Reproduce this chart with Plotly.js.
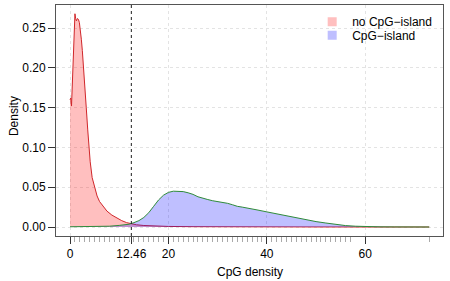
<!DOCTYPE html>
<html><head><meta charset="utf-8">
<script src="https://cdn.plot.ly/plotly-3.0.1.min.js"></script>
<style>html,body{margin:0;padding:0;background:#fff}#chart{width:450px;height:281px}</style>
</head><body><div id="chart"></div>
<script>
const nonIslandX = [0.0,0.15,0.3,0.5,0.7,0.9,1.0,1.15,1.3,1.5,1.7,1.9,2.1,2.3,2.5,2.7,3.0,3.3,3.6,3.8,4.1,4.5,5.1,5.5,6.0,6.8,7.5,8.5,9.5,10.5,11.5,12.5,13.5,15,17,20,25,30,40,50,60,73];
const nonIslandY = [0.160,0.162,0.152,0.185,0.235,0.262,0.268,0.262,0.259,0.262,0.261,0.257,0.248,0.236,0.222,0.206,0.180,0.150,0.122,0.105,0.082,0.062,0.046,0.039,0.032,0.0255,0.020,0.015,0.011,0.008,0.0055,0.0038,0.0028,0.0019,0.0012,0.0007,0.0004,0.0002,0.0001,0.00005,0,0];
const islandX = [0,5,8,10,11,12,13,14,15,16,17,18,19,20,21,22,23,24,25,26,27,28,29,30,31,32,33,34,35,36,38,40,42,44,46,48,50,52,54,56,58,60,63,66,70,73];
const islandY = [0.0003,0.0005,0.001,0.002,0.003,0.0035,0.0055,0.008,0.012,0.018,0.026,0.034,0.040,0.0435,0.045,0.0452,0.0445,0.043,0.041,0.038,0.036,0.0345,0.033,0.032,0.031,0.0298,0.028,0.026,0.025,0.024,0.0215,0.019,0.0165,0.014,0.011,0.0085,0.0068,0.005,0.0033,0.0018,0.001,0.0005,0.0002,0.0001,0,0];
const rugX = [0,1,2,3,4,5,6,7,8,9,10,11,12,13,14,15,16,17,18,19,20,21,22,23,24,25,26,27,28,29,30,31,32,33,34,35,36,37,38,39,40,41,42,43,44,45,46,47,48,49,50,51,52,53,54,55,56,57,73];
const threshold = 12.46;
const xTickVals = [0, 12.46, 20, 40, 60];
const xTickText = ['0', '12.46', '20', '40', '60'];
const yTickVals = [0, 0.05, 0.10, 0.15, 0.20, 0.25];
const seriesNames = ['no CpG\u2212island', 'CpG\u2212island'];

const font = {family: 'Liberation Sans, Arial, sans-serif', size: 12, color: '#000'};
const traces = [
  {x: nonIslandX, y: nonIslandY, type: 'scatter', mode: 'lines', fill: 'tozeroy',
   fillcolor: 'rgba(255,0,0,0.25)', line: {color: '#d0262a', width: 1}, showlegend: false, hoverinfo: 'skip'},
  {x: islandX, y: islandY, type: 'scatter', mode: 'lines', fill: 'tozeroy',
   fillcolor: 'rgba(0,0,255,0.25)', line: {color: '#2e8b3a', width: 1}, showlegend: false, hoverinfo: 'skip'},
  {x: [null], y: [null], type: 'scatter', mode: 'markers', name: seriesNames[0], legend: 'legend',
   marker: {symbol: 'square', size: 9, color: 'rgba(255,0,0,0.25)'}},
  {x: [null], y: [null], type: 'scatter', mode: 'markers', name: seriesNames[1], legend: 'legend2',
   marker: {symbol: 'square', size: 9, color: 'rgba(0,0,255,0.25)'}}
];
const legendBase = {xanchor: 'left', yanchor: 'top', bgcolor: 'rgba(0,0,0,0)', font: font, itemwidth: 30};
const layout = {
  width: 450, height: 281,
  margin: {l: 56, r: 7, t: 5, b: 45},
  paper_bgcolor: '#fff', plot_bgcolor: '#fff',
  font: font,
  showlegend: true,
  legend: Object.assign({x: 0.662, y: 0.99}, legendBase),
  legend2: Object.assign({x: 0.662, y: 0.932}, legendBase),
  xaxis: {range: [-2.85, 75.8], tickmode: 'array', tickvals: xTickVals, ticktext: xTickText,
          ticks: 'outside', ticklen: 7, tickcolor: '#333', tickwidth: 1,
          showline: true, mirror: true, linecolor: '#555', linewidth: 1,
          showgrid: true, gridcolor: '#e3e3e3', griddash: 'dot', zeroline: false,
          tickfont: font,
          minor: {tickmode: 'array', tickvals: rugX, ticks: 'outside', ticklen: 5, tickcolor: '#aaaaaa', showgrid: false}},
  yaxis: {range: [-0.0113, 0.279], tickmode: 'array', tickvals: yTickVals, tickformat: '.2f',
          ticks: 'outside', ticklen: 7, tickcolor: '#333', tickwidth: 1,
          showline: true, mirror: true, linecolor: '#555', linewidth: 1,
          showgrid: true, gridcolor: '#e3e3e3', griddash: 'dot', zeroline: false,
          tickfont: font},
  shapes: [{type: 'line', xref: 'x', yref: 'paper', x0: threshold, x1: threshold, y0: 0, y1: 1,
            line: {color: '#222', width: 1, dash: 'dot'}}],
  annotations: [
    {text: 'Density', xref: 'paper', yref: 'paper', x: -0.108, y: 0.52, xanchor: 'center', yanchor: 'middle',
     textangle: -90, showarrow: false, font: font},
    {text: 'CpG density', xref: 'paper', yref: 'paper', x: 0.501, y: -0.156, xanchor: 'center', yanchor: 'middle',
     showarrow: false, font: font}
  ]
};
Plotly.newPlot('chart', traces, layout, {displayModeBar: false, staticPlot: true});
</script></body></html>
